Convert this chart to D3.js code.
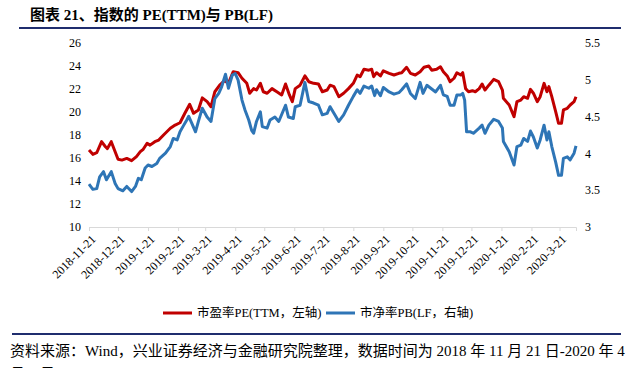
<!DOCTYPE html>
<html>
<head>
<meta charset="utf-8">
<script src="https://cdn.jsdelivr.net/npm/d3@7"></script>
<style>
    body { margin: 0; background: #fff; }
    svg { display: block; }
    text { font-family: 'Times New Roman', 'Liberation Serif', 'Noto Sans CJK SC', serif; fill: #000; }
</style>
</head>
<body>
<svg id="chart" width="639" height="368"></svg>
<script>
const title = '图表 21、指数的 PE(TTM)与 PB(LF)';
const source = '资料来源：Wind，兴业证券经济与金融研究院整理，数据时间为 2018 年 11 月 21 日-2020 年 4';
const sourceWrap = '月 7 日';
const legendNames = ['市盈率PE(TTM，左轴)', '市净率PB(LF，右轴)'];

const xTickLabels = ['2018-11-21', '2018-12-21', '2019-1-21', '2019-2-21', '2019-3-21', '2019-4-21',
    '2019-5-21', '2019-6-21', '2019-7-21', '2019-8-21', '2019-9-21', '2019-10-21', '2019-11-21',
    '2019-12-21', '2020-1-21', '2020-2-21', '2020-3-21'];
const leftTicks = [10, 12, 14, 16, 18, 20, 22, 24, 26];
const rightTicks = [3, 3.5, 4, 4.5, 5, 5.5];

// PE (TTM), left axis
const peDates = ['2018-11-21', '2018-11-25', '2018-11-29', '2018-12-04', '2018-12-08', '2018-12-10', '2018-12-14',
    '2018-12-18', '2018-12-21', '2018-12-25', '2018-12-30', '2019-01-04', '2019-01-09', '2019-01-13', '2019-01-16',
    '2019-01-20', '2019-01-23', '2019-01-28', '2019-02-01', '2019-02-06', '2019-02-13', '2019-02-18', '2019-02-23',
    '2019-02-28', '2019-03-05', '2019-03-09', '2019-03-14', '2019-03-18', '2019-03-23', '2019-03-27', '2019-03-31',
    '2019-04-05', '2019-04-10', '2019-04-14', '2019-04-19', '2019-04-24', '2019-04-28', '2019-05-03', '2019-05-06',
    '2019-05-10', '2019-05-13', '2019-05-17', '2019-05-20', '2019-05-24', '2019-05-29', '2019-06-03', '2019-06-08',
    '2019-06-12', '2019-06-16', '2019-06-19', '2019-06-22', '2019-06-27', '2019-07-02', '2019-07-06', '2019-07-11',
    '2019-07-16', '2019-07-20', '2019-07-25', '2019-07-28', '2019-08-01', '2019-08-06', '2019-08-11', '2019-08-16',
    '2019-08-21', '2019-08-25', '2019-08-28', '2019-09-01', '2019-09-06', '2019-09-09', '2019-09-11', '2019-09-14',
    '2019-09-18', '2019-09-21', '2019-09-27', '2019-10-02', '2019-10-07', '2019-10-10', '2019-10-15', '2019-10-19',
    '2019-10-24', '2019-10-29', '2019-11-02', '2019-11-07', '2019-11-10', '2019-11-15', '2019-11-19', '2019-11-22',
    '2019-11-26', '2019-11-29', '2019-12-03', '2019-12-06', '2019-12-10', '2019-12-12', '2019-12-15', '2019-12-18',
    '2019-12-22', '2019-12-25', '2019-12-29', '2020-01-01', '2020-01-04', '2020-01-08', '2020-01-13', '2020-01-18',
    '2020-01-22', '2020-01-23', '2020-01-29', '2020-02-03', '2020-02-06', '2020-02-10', '2020-02-13', '2020-02-17',
    '2020-02-20', '2020-02-23', '2020-02-27', '2020-03-01', '2020-03-05', '2020-03-08', '2020-03-10', '2020-03-13',
    '2020-03-17', '2020-03-20', '2020-03-23', '2020-03-25', '2020-03-29', '2020-04-01', '2020-04-05', '2020-04-07'];
const peValues = [16.68, 16.3, 16.44, 17.4, 16.96, 16.8, 17.4,
    16.53, 15.87, 15.8, 15.95, 15.75, 16.1, 16.53, 16.74,
    17.26, 17.1, 17.4, 17.54, 17.98, 18.56, 18.84, 19.04,
    19.86, 20.64, 19.86, 20.15, 21.2, 20.87, 20.43, 21.73,
    22.3, 22.69, 22.46, 23.47, 23.38, 22.9, 22.46, 21.6,
    22.0, 21.88, 22.46, 21.73, 21.6, 22.0, 21.73, 21.45,
    22.4, 21.45, 20.87, 22.0, 22.3, 23.1, 22.6, 22.46,
    22.4, 21.73, 21.88, 22.3, 22.17, 21.3, 21.6, 22.0,
    22.46, 23.18, 23.03, 23.68, 23.6, 23.68, 23.03, 23.38,
    23.1, 23.55, 23.33, 23.18, 23.33, 23.38, 23.85, 23.33,
    23.18, 23.47, 23.85, 23.96, 23.6, 23.68, 23.9, 23.47,
    23.1, 22.6, 22.9, 23.38, 23.18, 23.38, 22.0, 21.73,
    21.82, 21.73, 22.0, 22.4, 21.88, 22.3, 22.8, 22.6,
    21.88, 21.16, 20.58, 19.57, 20.87, 21.01, 21.3, 21.16,
    21.94, 21.6, 20.87, 21.3, 22.46, 21.73, 22.17, 21.3,
    20.0, 18.99, 18.99, 20.15, 20.29, 20.58, 20.87, 21.3];

// PB (LF), right axis
const pbDates = ['2018-11-21', '2018-11-25', '2018-11-29', '2018-12-02', '2018-12-06', '2018-12-09', '2018-12-14',
    '2018-12-18', '2018-12-21', '2018-12-26', '2018-12-30', '2019-01-04', '2019-01-08', '2019-01-11', '2019-01-14',
    '2019-01-18', '2019-01-21', '2019-01-25', '2019-01-30', '2019-02-02', '2019-02-08', '2019-02-13', '2019-02-16',
    '2019-02-20', '2019-02-23', '2019-02-26', '2019-03-02', '2019-03-04', '2019-03-07', '2019-03-11', '2019-03-14',
    '2019-03-18', '2019-03-23', '2019-03-27', '2019-03-31', '2019-04-04', '2019-04-07', '2019-04-11', '2019-04-14',
    '2019-04-18', '2019-04-21', '2019-04-24', '2019-04-28', '2019-05-01', '2019-05-05', '2019-05-08', '2019-05-10',
    '2019-05-13', '2019-05-17', '2019-05-19', '2019-05-24', '2019-05-27', '2019-06-01', '2019-06-05', '2019-06-12',
    '2019-06-15', '2019-06-20', '2019-06-22', '2019-06-27', '2019-07-02', '2019-07-06', '2019-07-11', '2019-07-16',
    '2019-07-20', '2019-07-25', '2019-07-28', '2019-08-01', '2019-08-06', '2019-08-11', '2019-08-16', '2019-08-21',
    '2019-08-25', '2019-08-28', '2019-09-01', '2019-09-06', '2019-09-09', '2019-09-12', '2019-09-14', '2019-09-18',
    '2019-09-21', '2019-09-27', '2019-10-02', '2019-10-07', '2019-10-10', '2019-10-15', '2019-10-19', '2019-10-24',
    '2019-10-29', '2019-11-01', '2019-11-05', '2019-11-09', '2019-11-14', '2019-11-19', '2019-11-22', '2019-11-26',
    '2019-11-29', '2019-12-03', '2019-12-06', '2019-12-10', '2019-12-12', '2019-12-14', '2019-12-16', '2019-12-20',
    '2019-12-23', '2019-12-29', '2020-01-01', '2020-01-04', '2020-01-08', '2020-01-13', '2020-01-18', '2020-01-22',
    '2020-01-23', '2020-01-29', '2020-02-03', '2020-02-06', '2020-02-10', '2020-02-13', '2020-02-17', '2020-02-20',
    '2020-02-23', '2020-02-27', '2020-03-01', '2020-03-05', '2020-03-08', '2020-03-10', '2020-03-13', '2020-03-17',
    '2020-03-20', '2020-03-23', '2020-03-25', '2020-03-29', '2020-04-01', '2020-04-05', '2020-04-07'];
const pbValues = [3.58, 3.51, 3.52, 3.68, 3.75, 3.64, 3.75,
    3.59, 3.52, 3.49, 3.55, 3.48, 3.55, 3.66, 3.64,
    3.80, 3.84, 3.82, 3.86, 3.93, 4.0, 4.09, 4.20,
    4.18, 4.29, 4.36, 4.45, 4.50, 4.41, 4.29, 4.43,
    4.61, 4.49, 4.43, 4.74, 4.81, 4.90, 5.07, 4.88,
    5.06, 5.08, 4.99, 4.72, 4.59, 4.45, 4.31, 4.27,
    4.43, 4.56, 4.36, 4.34, 4.45, 4.49, 4.43, 4.65,
    4.49, 4.47, 4.63, 4.65, 4.96, 4.70, 4.68, 4.65,
    4.52, 4.54, 4.63, 4.54, 4.43, 4.52, 4.65, 4.77,
    4.86, 4.81, 4.91, 4.88, 4.91, 4.78, 4.86, 4.78,
    4.89, 4.83, 4.80, 4.82, 4.86, 4.94, 4.81, 4.74,
    4.96, 4.81, 4.92, 4.88, 4.83, 4.92, 4.79, 4.77,
    4.65, 4.65, 4.79, 4.79, 4.81, 4.72, 4.29, 4.29,
    4.27, 4.34, 4.38, 4.27, 4.38, 4.46, 4.43, 4.34,
    4.16, 4.02, 3.84, 4.09, 4.11, 4.20, 4.16, 4.30,
    4.22, 4.07, 4.18, 4.38, 4.18, 4.29, 4.09, 3.88,
    3.70, 3.70, 3.93, 3.95, 3.91, 4.0, 4.10];

const parseIso = d3.timeParse('%Y-%m-%d');
const parseTick = d3.timeParse('%Y-%-m-%-d');

const svg = d3.select('#chart');
const plotLeft = 89, plotRight = 576, plotTop = 42.5, plotBottom = 227;

const x = d3.scaleTime()
    .domain([parseIso('2018-11-21'), parseIso('2020-04-07')])
    .range([plotLeft, plotRight]);
const yLeft = d3.scaleLinear().domain([10, 26]).range([plotBottom, plotTop]);
const yRight = d3.scaleLinear().domain([3, 5.5]).range([plotBottom, plotTop]);

// header
svg.append('text')
    .attr('x', 30).attr('y', 20)
    .attr('font-size', 15).attr('font-weight', 'bold')
    .text(title);
svg.append('line')
    .attr('x1', 19).attr('x2', 621).attr('y1', 28).attr('y2', 28)
    .attr('stroke', '#1f2d6e').attr('stroke-width', 2);

// x axis
const xAxis = svg.append('g')
    .attr('transform', `translate(0,${plotBottom})`)
    .call(d3.axisBottom(x)
        .tickValues(xTickLabels.map(parseTick))
        .tickSize(4)
        .tickFormat((d, i) => xTickLabels[i]));
xAxis.select('.domain').attr('stroke', '#d9d9d9');
xAxis.selectAll('.tick line').attr('stroke', '#d9d9d9');
xAxis.selectAll('.tick text')
    .attr('font-size', 12)
    .attr('font-family', null)
    .attr('text-anchor', 'end')
    .attr('dy', '0.35em')
    .attr('y', 0)
    .attr('transform', 'translate(4,10) rotate(-45)');

// left axis
const yAxisL = svg.append('g')
    .attr('transform', `translate(${plotLeft - 8},0)`)
    .call(d3.axisLeft(yLeft).tickValues(leftTicks).tickSize(0).tickPadding(0));
yAxisL.select('.domain').remove();
yAxisL.selectAll('text').attr('font-size', 12).attr('font-family', null);

// right axis
const yAxisR = svg.append('g')
    .attr('transform', `translate(${plotRight + 9},0)`)
    .call(d3.axisRight(yRight).tickValues(rightTicks).tickSize(0).tickPadding(0)
        .tickFormat(d3.format('~g')));
yAxisR.select('.domain').remove();
yAxisR.selectAll('text').attr('font-size', 12).attr('font-family', null);

// lines
const pe = peDates.map((d, i) => ({ date: parseIso(d), value: peValues[i] }));
const pb = pbDates.map((d, i) => ({ date: parseIso(d), value: pbValues[i] }));

svg.append('path')
    .datum(pe)
    .attr('fill', 'none')
    .attr('stroke', '#c00000')
    .attr('stroke-width', 3)
    .attr('stroke-linejoin', 'round')
    .attr('d', d3.line().x(d => x(d.date)).y(d => yLeft(d.value)));

svg.append('path')
    .datum(pb)
    .attr('fill', 'none')
    .attr('stroke', '#2e75b6')
    .attr('stroke-width', 3)
    .attr('stroke-linejoin', 'round')
    .attr('d', d3.line().x(d => x(d.date)).y(d => yRight(d.value)));

// legend
const legend = svg.append('g').attr('transform', 'translate(0,313)');
const legendColors = ['#c00000', '#2e75b6'];
const legendX = [163, 326];
legendNames.forEach((name, i) => {
    legend.append('line')
        .attr('x1', legendX[i]).attr('x2', legendX[i] + 29)
        .attr('stroke', legendColors[i]).attr('stroke-width', 3);
    legend.append('text')
        .attr('x', legendX[i] + 34).attr('dy', '0.35em')
        .attr('font-size', 12.5)
        .text(name);
});

// footer
svg.append('line')
    .attr('x1', 12).attr('x2', 621).attr('y1', 334).attr('y2', 334)
    .attr('stroke', '#1f2d6e').attr('stroke-width', 2);
svg.append('text')
    .attr('x', 10).attr('y', 356)
    .attr('font-size', 15)
    .text(source);
svg.append('text')
    .attr('x', 10).attr('y', 379)
    .attr('font-size', 15)
    .text(sourceWrap);
</script>
</body>
</html>
